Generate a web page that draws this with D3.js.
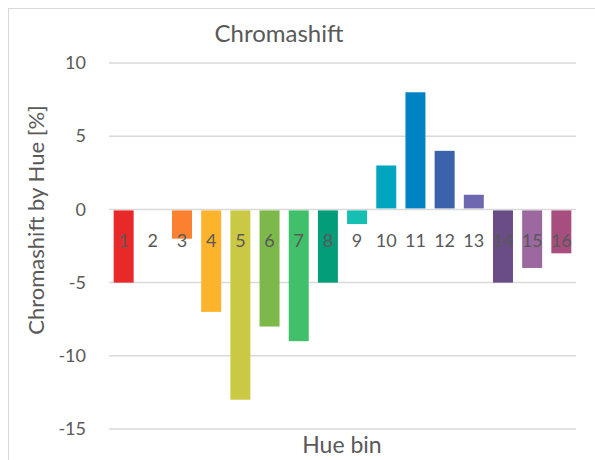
<!DOCTYPE html>
<html>
<head>
<meta charset="utf-8">
<script src="https://cdn.jsdelivr.net/npm/d3@7"></script>
<style>
  body { margin: 0; background: #fff; }
  svg { font-family: Lato, "Open Sans", sans-serif; }
</style>
</head>
<body>
<div id="chart"></div>
<script>
// data
const bins = ["1", "2", "3", "4", "5", "6", "7", "8", "9", "10", "11", "12", "13", "14", "15", "16"];
const shift = [-5, 0, -2, -7, -13, -8, -9, -5, -1, 3, 8, 4, 1, -5, -4, -3];
const binColors = ["#e8292a", "#f05a2b", "#f98130", "#fdb32b", "#cbc944", "#7db84a", "#41c06b", "#039d7a",
    "#15bfb2", "#00a6c0", "#0083c3", "#3b62aa", "#6e68b0", "#6a4c87", "#9c68a0", "#a84e7e"];
const yTicks = [10, 5, 0, -5, -10, -15];

const width = 595, height = 460;
const margin = { top: 63, right: 19, bottom: 31, left: 109 };
const innerW = width - margin.left - margin.right;
const innerH = height - margin.top - margin.bottom;

const svg = d3.select("#chart").append("svg")
    .attr("width", width)
    .attr("height", height);

// chart frame
svg.append("rect")
    .attr("x", 8.5).attr("y", 8.5)
    .attr("width", 600).attr("height", 470)
    .attr("fill", "none")
    .attr("stroke", "#d9d9d9");

const g = svg.append("g")
    .attr("transform", `translate(${margin.left}, ${margin.top})`);

const x = d3.scaleBand()
    .domain(bins)
    .range([0, innerW])
    .paddingInner(0.315)
    .paddingOuter(0.16);

const y = d3.scaleLinear()
    .domain([-15, 10])
    .range([innerH, 0]);

// gridlines
g.selectAll("line.grid")
    .data(yTicks)
    .enter()
    .append("line")
    .attr("class", "grid")
    .attr("x1", 0)
    .attr("x2", innerW)
    .attr("y1", d => y(d))
    .attr("y2", d => y(d))
    .attr("stroke", "#d9d9d9")
    .attr("stroke-width", 1.5);

// y axis labels (plain hyphen minus like the original)
const yAxis = g.append("g")
    .call(d3.axisLeft(y).tickValues(yTicks).tickSize(0).tickPadding(23)
        .tickFormat(d => String(d)));
yAxis.select(".domain").remove();
yAxis.selectAll("text")
    .attr("fill", "#595959")
    .attr("font-size", 18)
    .attr("font-family", "Lato, 'Open Sans', sans-serif");

// bars
g.selectAll("rect.bar")
    .data(shift)
    .enter()
    .append("rect")
    .attr("class", "bar")
    .attr("x", (d, i) => x(bins[i]))
    .attr("width", x.bandwidth())
    .attr("y", d => y(Math.max(0, d)) + (d >= 0 ? 0 : 1))
    .attr("height", d => Math.abs(y(d) - y(0)) - 1)
    .attr("fill", (d, i) => binColors[i]);

// category labels sitting below the zero line
g.selectAll("text.bin")
    .data(bins)
    .enter()
    .append("text")
    .attr("class", "bin")
    .attr("x", d => x(d) + x.bandwidth() / 2)
    .attr("y", y(0) + 38)
    .attr("text-anchor", "middle")
    .attr("fill", "#595959")
    .attr("font-size", 18)
    .text(d => d);

// titles
svg.append("text")
    .attr("x", 279).attr("y", 42)
    .attr("text-anchor", "middle")
    .attr("fill", "#595959")
    .attr("font-size", 24)
    .text("Chromashift");

svg.append("text")
    .attr("transform", `translate(44, 220) rotate(-90)`)
    .attr("text-anchor", "middle")
    .attr("fill", "#595959")
    .attr("font-size", 22)
    .text("Chromashift by Hue [%]");

svg.append("text")
    .attr("x", 342).attr("y", 453)
    .attr("text-anchor", "middle")
    .attr("fill", "#595959")
    .attr("font-size", 23)
    .text("Hue bin");
</script>
</body>
</html>
